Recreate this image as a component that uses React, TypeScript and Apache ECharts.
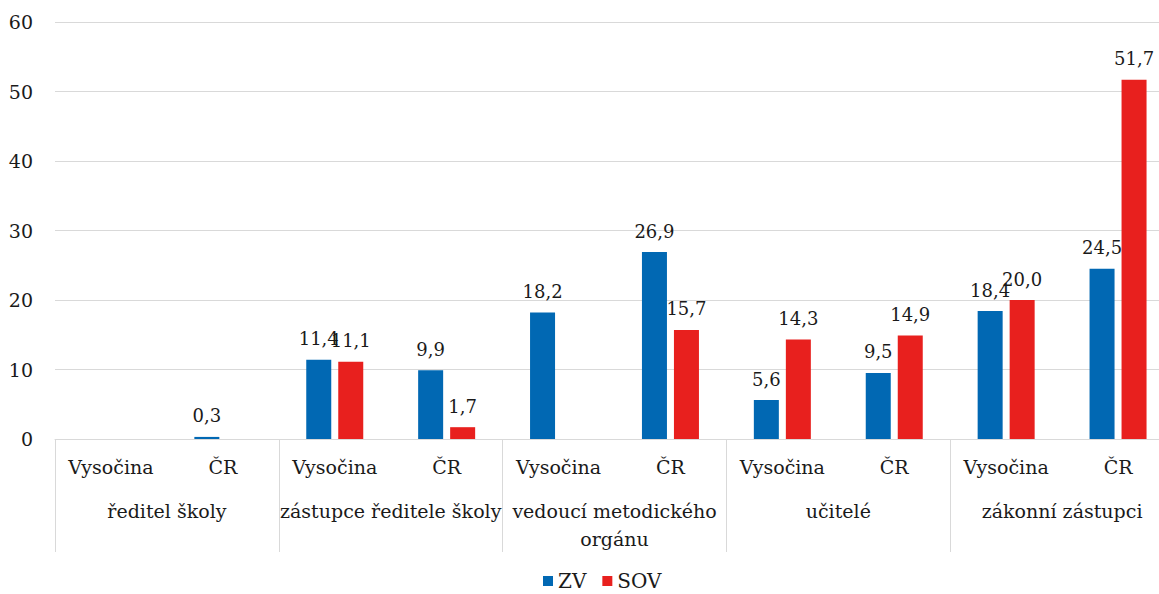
import React, { useEffect, useRef } from "react";
import * as echarts from "echarts";

const regions = ["Vysočina", "ČR", "Vysočina", "ČR", "Vysočina", "ČR", "Vysočina", "ČR", "Vysočina", "ČR"];
const groups = ["ředitel školy", "zástupce ředitele školy", "vedoucí metodického\norgánu", "učitelé", "zákonní zástupci"];
const zvValues = [null, 0.3, 11.4, 9.9, 18.2, 26.9, 5.6, 9.5, 18.4, 24.5];
const sovValues = [null, null, 11.1, 1.7, null, 15.7, 14.3, 14.9, 20.0, 51.7];
const yTicks = [0, 10, 20, 30, 40, 50, 60];

const FONT = "DejaVu Serif";
const FS = 19;
const TEXT = "#1a1a1a";
const GRIDC = "#d9d9d9";

export default function App() {
  const ref = useRef<HTMLDivElement>(null);
  useEffect(() => {
    if (!ref.current) return;
    const chart = echarts.init(ref.current, undefined, { renderer: "svg" });
    const labelFmt = (p: any) => (p.value == null ? "" : Number(p.value).toFixed(1).replace(".", ","));
    const gridRect = { left: 55, top: 22, width: 1119, height: 417, outerBoundsMode: "none" };
    chart.setOption({
      animation: false,
      textStyle: { fontFamily: FONT },
      grid: [gridRect, { ...gridRect }],
      legend: {
        left: 538,
        top: 566,
        itemWidth: 10,
        itemHeight: 10,
        itemGap: 16,
        icon: "rect",
        textStyle: { fontFamily: FONT, fontSize: 20, color: TEXT },
        data: ["ZV", "SOV"],
      },
      xAxis: [
        {
          type: "category",
          gridIndex: 0,
          data: regions,
          position: "bottom",
          axisLine: { show: true, lineStyle: { color: GRIDC, width: 1 } },
          axisTick: { show: false },
          axisLabel: { interval: 0, margin: 14, fontFamily: FONT, fontSize: FS, color: TEXT, lineHeight: 28 },
        },
        {
          type: "category",
          gridIndex: 1,
          data: groups,
          position: "bottom",
          axisLine: { show: false },
          axisTick: { show: true, length: 113, interval: 0, lineStyle: { color: GRIDC, width: 1 } },
          axisLabel: { interval: 0, margin: 58, fontFamily: FONT, fontSize: FS, color: TEXT, lineHeight: 28 },
        },
      ],
      yAxis: [
        {
          type: "value",
          gridIndex: 0,
          min: yTicks[0],
          max: yTicks[yTicks.length - 1],
          interval: 10,
          axisLine: { show: false },
          axisTick: { show: false },
          splitLine: { show: true, lineStyle: { color: GRIDC, width: 1 } },
          axisLabel: { margin: 22, fontFamily: FONT, fontSize: FS, color: TEXT },
        },
        {
          type: "value",
          gridIndex: 1,
          min: 0,
          max: 60,
          interval: 10,
          show: false,
        },
      ],
      series: [
        {
          name: "ZV",
          type: "bar",
          xAxisIndex: 0,
          yAxisIndex: 0,
          data: zvValues,
          barWidth: 25,
          barGap: "28%",
          itemStyle: { color: "#0168B3" },
          label: { show: true, position: "top", distance: 12, formatter: labelFmt, fontFamily: FONT, fontSize: 18, color: TEXT },
        },
        {
          name: "SOV",
          type: "bar",
          xAxisIndex: 0,
          yAxisIndex: 0,
          data: sovValues,
          barWidth: 25,
          barGap: "28%",
          itemStyle: { color: "#E8201E" },
          label: { show: true, position: "top", distance: 12, formatter: labelFmt, fontFamily: FONT, fontSize: 18, color: TEXT },
        },
      ],
    });
    return () => chart.dispose();
  }, []);
  return <div ref={ref} style={{ position: "fixed", left: 0, top: 0, width: 1159, height: 594, background: "#fff" }} />;
}
